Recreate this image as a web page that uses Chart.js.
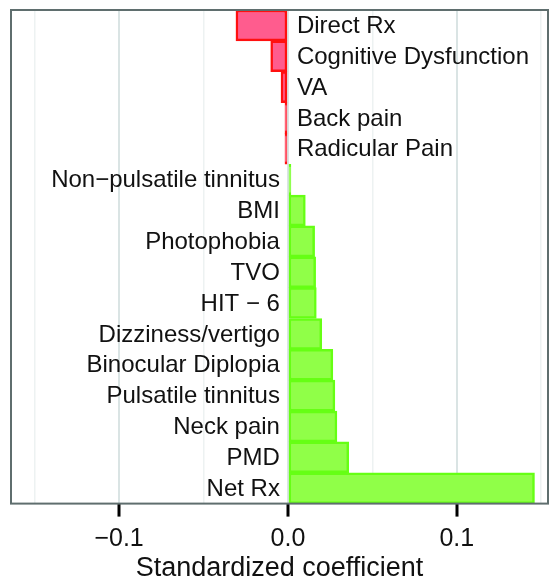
<!DOCTYPE html>
<html><head><meta charset="utf-8">
<script src="https://cdn.jsdelivr.net/npm/chart.js@4.4.1/dist/chart.umd.min.js"></script>
<style>html,body{margin:0;padding:0;background:#fff;}#wrap{width:558px;height:577px;}</style>
</head><body><div id="wrap"><canvas id="c" width="558" height="577"></canvas></div>
<script>
const categories = ["Direct Rx","Cognitive Dysfunction","VA","Back pain","Radicular Pain","Non\u2212pulsatile tinnitus","BMI","Photophobia","TVO","HIT \u2212 6","Dizziness/vertigo","Binocular Diplopia","Pulsatile tinnitus","Neck pain","PMD","Net Rx"];
const coefficients = [-0.0308,-0.0102,-0.0041,-0.0008,-0.0005,0.0010,0.0103,0.0158,0.0164,0.0168,0.0200,0.0266,0.0278,0.0290,0.0360,0.1460];
const majorTicks = [-0.1, 0.0, 0.1];
const axisTitle = "Standardized coefficient";

const FONT = "'Liberation Sans', Arial, Helvetica, sans-serif";
const isMajor = v => majorTicks.some(m => Math.abs(m - v) < 1e-9);

const labelPlugin = {
  id: 'barLabels',
  afterDatasetsDraw(chart) {
    const ctx = chart.ctx, xs = chart.scales.x, ys = chart.scales.y;
    const x0 = xs.getPixelForValue(0);
    ctx.save();
    ctx.font = "24px " + FONT;
    ctx.fillStyle = "#111";
    ctx.textBaseline = "middle";
    categories.forEach((c, i) => {
      const y = ys.getPixelForValue(i);
      if (coefficients[i] < 0) { ctx.textAlign = "left"; ctx.fillText(c, x0 + 9, y + 1); }
      else { ctx.textAlign = "right"; ctx.fillText(c, x0 - 8, y + 1); }
    });
    ctx.restore();
  }
};
const framePlugin = {
  id: 'frame',
  afterDraw(chart) {
    const a = chart.chartArea, ctx = chart.ctx;
    ctx.save();
    ctx.strokeStyle = "#5f6e6e";
    ctx.lineWidth = 2;
    ctx.strokeRect(a.left, a.top, a.right - a.left, a.bottom - a.top);
    ctx.restore();
  }
};

new Chart(document.getElementById('c'), {
  type: 'bar',
  data: {
    labels: categories,
    datasets: [{
      data: coefficients,
      backgroundColor: coefficients.map(v => v < 0 ? '#ff5c8e' : '#90ff48'),
      borderColor: coefficients.map(v => v < 0 ? '#ff1010' : '#66ff14'),
      borderWidth: 2.5,
      borderSkipped: false,
      barPercentage: 1,
      categoryPercentage: 1,
      minBarLength: 3
    }]
  },
  options: {
    indexAxis: 'y',
    responsive: false,
    animation: false,
    layout: { padding: { left: 11, right: 10, top: 10, bottom: -8 } },
    plugins: { legend: { display: false }, tooltip: { enabled: false } },
    scales: {
      y: { display: false, offset: true },
      x: {
        min: -0.164, max: 0.154,
        border: { display: false },
        grid: {
          color: ctx => (ctx.tick && isMajor(ctx.tick.value)) ? '#dae4e4' : '#edf2f2',
          lineWidth: ctx => (ctx.tick && isMajor(ctx.tick.value)) ? 2 : 1.5,
          tickColor: ctx => (ctx.tick && isMajor(ctx.tick.value)) ? '#000' : 'rgba(0,0,0,0)',
          tickWidth: 3,
          tickLength: 13,
          drawTicks: true
        },
        ticks: {
          stepSize: 0.05,
          includeBounds: false,
          autoSkip: false,
          maxRotation: 0,
          padding: 8,
          color: '#111',
          font: { family: FONT, size: 25 },
          callback: v => isMajor(v) ? (v < 0 ? '\u2212' + Math.abs(v).toFixed(1) : v.toFixed(1)) : ''
        },
        title: {
          display: true, text: axisTitle, color: '#111',
          font: { family: FONT, size: 27 }, padding: { top: -10, bottom: 0 }
        }
      }
    }
  },
  plugins: [labelPlugin, framePlugin]
});
</script></body></html>
